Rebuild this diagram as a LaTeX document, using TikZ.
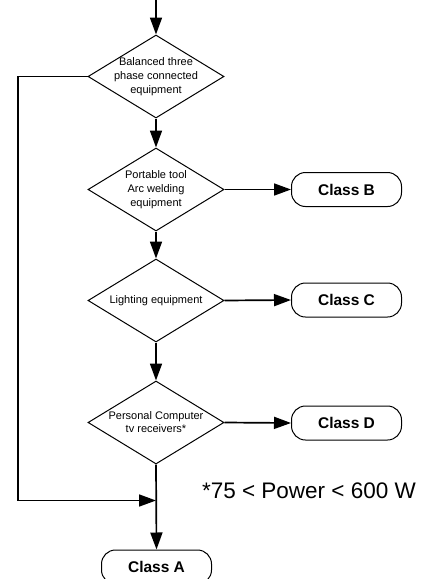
\documentclass[tikz,border=0pt]{standalone}
\usepackage{fontspec}
\setmainfont{Liberation Sans}
\usetikzlibrary{shapes.geometric,arrows.meta}
\begin{document}
\begin{tikzpicture}[x=1pt,y=-1pt,
  dia/.style={diamond,draw,line width=1pt,minimum width=136pt,minimum height=83pt,inner sep=0pt,aspect=1.64},
  dtext/.style={align=center,font=\fontsize{11}{14}\selectfont,inner sep=0pt},
  cls/.style={draw,line width=1pt,rounded corners=14pt,minimum width=110pt,minimum height=34pt,font=\fontsize{15.5}{18}\selectfont\bfseries,inner sep=0pt},
  flow/.style={line width=1.7pt,-{Triangle[length=17pt,width=12pt]}},
]
\useasboundingbox (0,0) rectangle (425,579);
\coordinate (start) at (156,0);
\node[dia] (d1) at (156,76.5) {};
\node[dtext] (t1) at (d1) {Balanced three\\phase connected\\equipment};
\node[dia] (d2) at (156,189.5) {};
\node[dtext] (t2) at (d2) {Portable tool\\Arc welding\\equipment};
\node[dia] (d3) at (156,300.5) {};
\node[dtext] (t3) at (d3) {Lighting equipment};
\node[dia] (d4) at (156,422.5) {};
\node[dtext,font=\fontsize{11}{13}\selectfont] (t4) at (d4) {Personal Computer\\tv receivers*};
\node[cls] (cB) at (346.5,189.5) {Class B};
\node[cls] (cC) at (346.5,300) {Class C};
\node[cls] (cD) at (346.5,423) {Class D};
\node[cls] (cA) at (156.5,567) {Class A};
\coordinate (join) at (156,500.5);
\coordinate (lt) at (18,76.5);
\coordinate (lb) at (18,500.5);
\node[font=\fontsize{22.5}{25}\selectfont,inner sep=0pt] (note) at (309,491) {*75 < Power < 600 W};
\draw[flow] (start) -- (d1.north);
\draw[flow] (d1.south) -- (d2.north);
\draw[flow] (d2.south) -- (d3.north);
\draw[flow] (d3.south) -- (d4.north);
\draw[flow] (d4.south) -- (cA.north);
\draw[flow] (d2.east) -- (cB.west);
\draw[flow] (d3.east) -- (cC.west);
\draw[flow] (d4.east) -- (cD.west);
\draw[flow] (d1.west) -- (lt) -- (lb) -- (join);
\end{tikzpicture}
\end{document}
